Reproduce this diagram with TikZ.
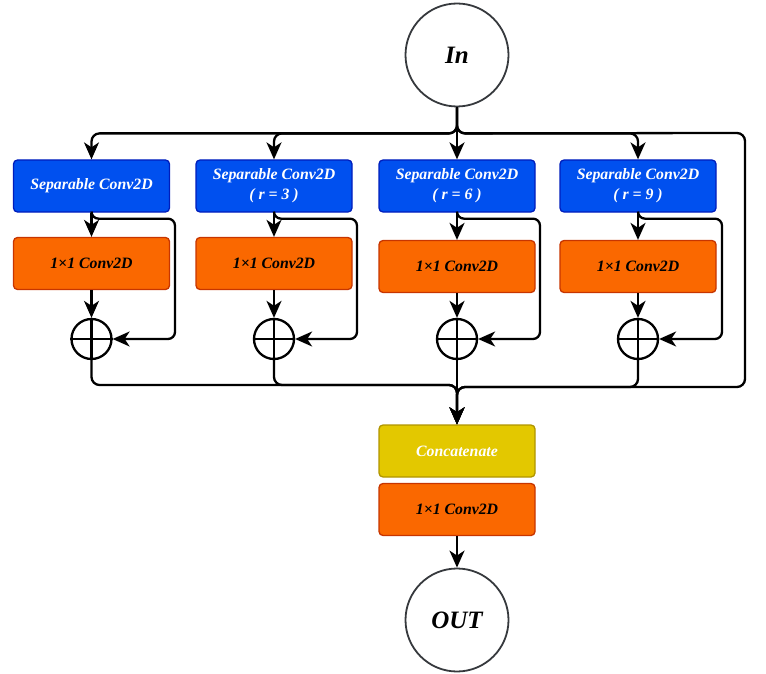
\documentclass[tikz,border=0pt]{standalone}
\usepackage{fontspec}
\setmainfont{Liberation Serif}
\usetikzlibrary{arrows.meta}
\definecolor{bluefill}{HTML}{0050EF}
\definecolor{bluedraw}{HTML}{001DBC}
\definecolor{orfill}{HTML}{FA6800}
\definecolor{ordraw}{HTML}{C73500}
\definecolor{yefill}{HTML}{E3C800}
\definecolor{yedraw}{HTML}{B09500}
\definecolor{ringgray}{HTML}{36393D}
\tikzset{
  box/.style={rectangle, rounded corners=4pt, minimum width=156pt, minimum height=52pt, line width=1.3pt, align=center, font=\fontsize{15.8}{20}\selectfont\bfseries\itshape, inner sep=0pt},
  sepbox/.style={box, fill=bluefill, draw=bluedraw, text=white},
  convbox/.style={box, fill=orfill, draw=ordraw, text=black},
  catbox/.style={box, fill=yefill, draw=yedraw, text=white},
  term/.style={circle, draw=ringgray, fill=white, line width=1.8pt, minimum size=103pt, inner sep=0pt, font=\fontsize{25}{28}\selectfont\bfseries\itshape},
  plus/.style={circle, draw=black, line width=2.3pt, minimum size=40pt, inner sep=0pt},
  arr/.style={line width=2.3pt, -{Stealth[length=17pt,width=15pt,inset=5pt]}},
  ln/.style={line width=2.3pt},
}
\begin{document}
\begin{tikzpicture}[x=1pt,y=-1pt]
\useasboundingbox (0,0) rectangle (766,674);
\node[term] (in) at (457,55) {In};
\node[term] (out) at (457,620) {OUT};

\node[sepbox] (b1) at (91.5,186) {Separable Conv2D};
\node[sepbox] (b2) at (274,186) {Separable Conv2D\\( r = 3 )};
\node[sepbox] (b3) at (457,186) {Separable Conv2D\\( r = 6 )};
\node[sepbox] (b4) at (638,186) {Separable Conv2D\\( r = 9 )};

\node[convbox] (o1) at (91.5,263.5) {1×1 Conv2D};
\node[convbox] (o2) at (274,263.5) {1×1 Conv2D};
\node[convbox] (o3) at (457,266.5) {1×1 Conv2D};
\node[convbox] (o4) at (638,266.5) {1×1 Conv2D};

\node[plus] (p1) at (91.5,339) {};
\node[plus] (p2) at (274,339) {};
\node[plus] (p3) at (457,339) {};
\node[plus] (p4) at (638,339) {};
\foreach \p in {p1,p2,p3,p4}{
  \draw[ln] (\p.north) -- (\p.south);
  \draw[ln] (\p.west) -- (\p.east);
}

\node[catbox] (cat) at (457,451) {Concatenate};
\node[convbox] (o5) at (457,509.5) {1×1 Conv2D};

% coordinates
\coordinate (r1) at (175,339);
\coordinate (r2) at (357,339);
\coordinate (r3) at (540,339);
\coordinate (r4) at (722,339);
\coordinate (byp) at (745,133);
\coordinate (m1) at (457,385);
\coordinate (m2) at (457,387);

% distribution
\draw[arr, rounded corners=8pt] (in.south) -- ++(0,26) -| (b1.north);
\draw[arr, rounded corners=8pt] (in.south) -- ++(0,26) -| (b2.north);
\draw[arr] (in.south) -- (b3.north);
\draw[arr, rounded corners=8pt] (in.south) -- ++(0,26) -| (b4.north);
\draw[arr, rounded corners=8pt] (in.south) -- ++(0,26) -- (byp) |- (m2) -- (cat.north);

% branches
\foreach \i in {1,2,3,4}{
  \draw[arr] (b\i.south) -- (o\i.north);
  \draw[arr] (o\i.south) -- (p\i.north);
  \draw[arr, rounded corners=7pt] (b\i.south) -- ++(0,6) -| (r\i) -- (p\i.east);
}

% merge
\draw[arr, rounded corners=8pt] (p1.south) |- (m1) -- (cat.north);
\draw[arr, rounded corners=8pt] (p2.south) |- (m1) -- (cat.north);
\draw[arr] (p3.south) -- (cat.north);
\draw[arr, rounded corners=8pt] (p4.south) |- (m2) -- (cat.north);

\draw[arr] (o5.south) -- (out.north);
\end{tikzpicture}
\end{document}
